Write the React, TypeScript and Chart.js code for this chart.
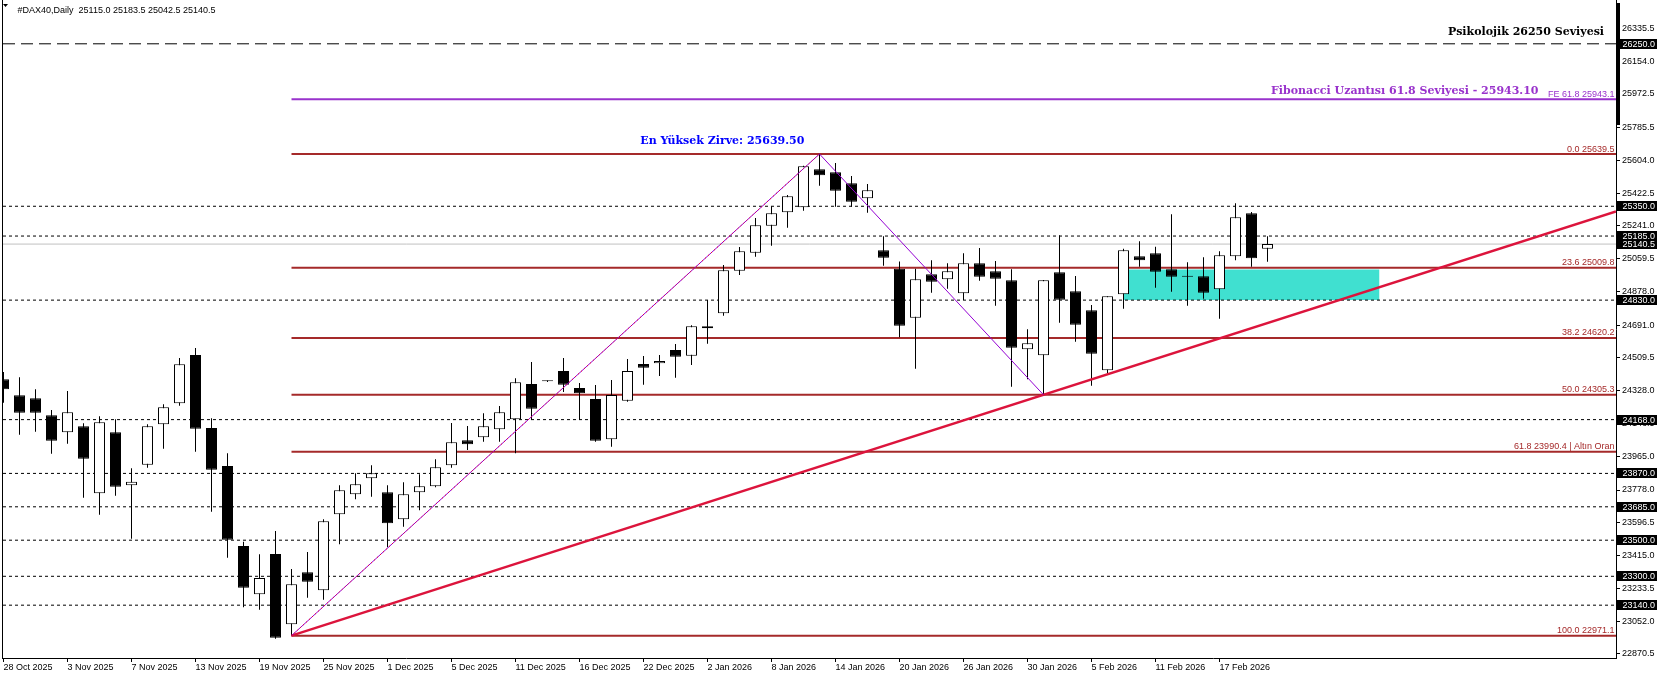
import React, { useEffect, useRef } from 'react';
import { Chart, registerables } from 'chart.js';

Chart.register(...registerables);

// ---------- DATA ----------
const tickLabels = [
  '28 Oct 2025', '3 Nov 2025', '7 Nov 2025', '13 Nov 2025', '19 Nov 2025', '25 Nov 2025',
  '1 Dec 2025', '5 Dec 2025', '11 Dec 2025', '16 Dec 2025', '22 Dec 2025', '2 Jan 2026',
  '8 Jan 2026', '14 Jan 2026', '20 Jan 2026', '26 Jan 2026', '30 Jan 2026', '5 Feb 2026',
  '11 Feb 2026', '17 Feb 2026',
];
const BARS_PER_TICK = 4;

const opens = [
  24391.3, 24302.7, 24286.1, 24191.9, 24097.7, 24131.0, 23759.8, 24097.7, 23804.1, 23918.2,
  24142.0, 24258.4, 24526.0, 24121.5, 23911.0, 23467.8, 23200.2, 23423.5, 23034.0, 23322.1,
  23222.4, 23643.4, 23754.2, 23842.9, 23765.3, 23615.7, 23765.3, 23798.6, 23914.9, 24053.4,
  24070.0, 24114.3, 24169.7, 24365.3, 24381.0, 24437.3, 24343.1, 24282.2, 24058.9, 24272.8,
  24476.1, 24480.0, 24553.7, 24522.1, 24673.9, 24757.0, 24993.0, 25092.7, 25242.3, 25316.5,
  25344.2, 25554.7, 25538.1, 25477.2, 25394.1, 25106.0, 25004.1, 24732.6, 24973.0, 24945.3,
  24867.8, 25034.0, 24989.7, 24939.8, 24557.5, 24524.3, 24984.1, 24878.9, 24773.6, 24441.2,
  24862.2, 25072.8, 25089.4, 25000.7, 24965.3, 24962.0, 24889.9, 25072.8, 25311.0, 25115.0,
];
const highs = [
  24431.8, 24402.4, 24335.9, 24221.3, 24326.5, 24147.6, 24186.4, 24169.7, 23898.3, 24142.0,
  24252.8, 24509.3, 24564.7, 24175.3, 23981.4, 23491.6, 23421.8, 23550.9, 23340.4, 23434.6,
  23615.7, 23804.1, 23870.6, 23914.9, 23804.1, 23820.7, 23865.0, 23948.1, 24149.2, 24132.6,
  24203.0, 24243.4, 24396.9, 24487.2, 24384.0, 24509.3, 24370.8, 24359.8, 24387.5, 24503.8,
  24520.4, 24526.0, 24586.9, 24690.5, 24830.7, 25024.6, 25124.3, 25284.9, 25349.8, 25412.4,
  25574.7, 25639.5, 25589.6, 25517.6, 25473.3, 25183.6, 25044.5, 25004.1, 25050.6, 25034.0,
  25089.4, 25118.7, 25046.7, 25000.7, 24668.3, 24942.0, 25189.1, 24963.6, 24803.0, 24851.2,
  25114.9, 25155.9, 25125.9, 25305.4, 25039.5, 25067.2, 25100.5, 25366.4, 25318.2, 25183.5,
];
const lows = [
  24261.7, 24084.4, 24101.0, 23979.2, 24034.6, 23735.4, 23641.2, 23746.5, 23508.3, 23901.6,
  24006.9, 24245.1, 23990.2, 23657.8, 23403.0, 23128.2, 23114.9, 22954.3, 22971.1, 23181.4,
  23170.3, 23477.2, 23726.5, 23740.9, 23460.6, 23574.7, 23665.6, 23793.0, 23901.6, 23999.7,
  24045.6, 24045.6, 23981.4, 24165.9, 24377.0, 24321.0, 24165.9, 24045.6, 24017.9, 24267.2,
  24361.4, 24409.6, 24400.2, 24470.6, 24588.6, 24743.7, 24969.2, 25070.5, 25131.5, 25231.2,
  25325.4, 25463.9, 25347.5, 25347.5, 25314.3, 25020.7, 24624.0, 24450.1, 24871.1, 24893.3,
  24830.7, 24937.6, 24799.1, 24350.3, 24391.3, 24305.3, 24704.9, 24599.6, 24355.9, 24424.6,
  24782.5, 25015.1, 24898.8, 24876.6, 24799.1, 24837.9, 24727.1, 25050.6, 25015.1, 25042.5,
];
const closes = [
  24335.9, 24206.3, 24206.3, 24051.2, 24208.5, 23951.5, 24153.1, 23796.3, 23824.0, 24131.0,
  24236.2, 24474.4, 24117.7, 23890.5, 23502.7, 23236.8, 23290.5, 22959.8, 23255.6, 23270.0,
  23604.7, 23776.4, 23809.6, 23870.6, 23593.6, 23754.2, 23798.6, 23903.8, 24042.3, 24031.2,
  24131.0, 24208.5, 24374.7, 24228.5, 24380.0, 24361.4, 24313.8, 24051.2, 24304.4, 24437.3,
  24455.6, 24492.7, 24516.5, 24685.0, 24685.0, 24995.2, 25100.5, 25244.5, 25311.0, 25405.2,
  25571.4, 25521.5, 25436.2, 25375.2, 25438.4, 25065.0, 24688.3, 24945.3, 24932.0, 24989.7,
  25034.0, 24959.7, 24948.7, 24566.4, 24590.8, 24939.8, 24832.3, 24693.8, 24533.2, 24851.2,
  25106.0, 25050.6, 24987.4, 24959.7, 24959.7, 24871.1, 25078.3, 25288.8, 25061.7, 25140.5,
];

const yTickValues = [
  26335.5, 26154.0, 25972.5, 25785.5, 25604.0, 25422.5, 25241.0, 25059.5, 24878.0, 24691.0,
  24509.5, 24328.0, 24146.5, 23965.0, 23778.0, 23596.5, 23415.0, 23233.5, 23052.0, 22870.5,
];

const supportResistance = [25350, 25185, 24830, 24168, 23870, 23685, 23500, 23300, 23140];
const psychLevel = 26250;
const lastPrice = 25140.5;

const fibRatios = [0.0, 23.6, 38.2, 50.0, 61.8, 100.0];
const fibValues = [25639.5, 25009.8, 24620.2, 24305.3, 23990.4, 22971.1];
const fibNotes = ['', '', '', '', ' | Altın Oran', ''];
const fibStartBar = 18;
const feRatio = 61.8;
const feValue = 25943.1;

const swingLowBar = 18;
const swingHighBar = 51;
const pullbackLowBar = 65;

const zoneBars = [70, 86];
const zoneRange = [24830, 25000];

const symbolTitle = '#DAX40,Daily';
const psychText = 'Psikolojik 26250 Seviyesi';
const feText = 'Fibonacci Uzantısı 61.8 Seviyesi - 25943.10';
const peakText = 'En Yüksek Zirve: 25639.50';
const peakTextBar = 39.8;

// ---------- VIEW ----------
const W = 1662;
const H = 679;
const X_MIN = -0.03125;
const X_MAX = 100.78125;
const Y_MIN = 22847.34;
const Y_MAX = 26492.66;

const FIB_COLOR = '#A52A2A';
const FE_COLOR = '#9932CC';
const F_SMALL = '9px "Liberation Sans"';
const F_SERIF = 'bold 11px "DejaVu Serif"';

const hLine = (v: number, from: number, color: string, width: number, dash: number[], order: number) => ({
  type: 'line' as const,
  data: [{ x: from, y: v }, { x: X_MAX, y: v }],
  borderColor: color,
  borderWidth: width,
  borderDash: dash,
  pointRadius: 0,
  fill: false,
  tension: 0,
  order,
  clip: 0,
});

const overlayPlugin = {
  id: 'overlay',
  afterDatasetsDraw(chart: any) {
    const { ctx, chartArea: ca, scales } = chart;
    const x = scales.x;
    const y = scales.y;
    ctx.save();
    ctx.beginPath();
    ctx.rect(ca.left, ca.top, ca.right - ca.left, ca.bottom - ca.top);
    ctx.clip();

    ctx.font = F_SMALL;
    ctx.textAlign = 'right';
    ctx.textBaseline = 'alphabetic';
    fibRatios.forEach((r, i) => {
      ctx.fillStyle = FIB_COLOR;
      ctx.fillText(
        `${r.toFixed(1)} ${fibValues[i].toFixed(1)}${fibNotes[i]}`,
        ca.right - 1.5,
        y.getPixelForValue(fibValues[i]) - 2.5,
      );
    });
    ctx.fillStyle = FE_COLOR;
    ctx.fillText(`FE ${feRatio.toFixed(1)} ${feValue.toFixed(1)}`, ca.right - 1.5, y.getPixelForValue(feValue) - 2);

    ctx.font = F_SERIF;
    ctx.fillStyle = FE_COLOR;
    ctx.fillText(feText, ca.right - 77.5, y.getPixelForValue(feValue) - 5);
    ctx.fillStyle = '#000';
    ctx.fillText(psychText, ca.right - 12, y.getPixelForValue(psychLevel) - 9);
    ctx.textAlign = 'left';
    ctx.fillStyle = '#0000FF';
    ctx.fillText(peakText, x.getPixelForValue(peakTextBar), y.getPixelForValue(highs[swingHighBar]) - 10);

    ctx.restore();
  },
  afterDraw(chart: any) {
    const { ctx, chartArea: ca, scales } = chart;
    const y = scales.y;
    ctx.save();
    // left frame
    ctx.fillStyle = '#000';
    ctx.fillRect(ca.left - 1, 0, 1, ca.bottom + 1);
    // scroll marker on price axis
    ctx.fillRect(ca.right, 3, 4, 122);

    // header
    ctx.beginPath();
    ctx.moveTo(3, 4);
    ctx.lineTo(8, 4);
    ctx.lineTo(5.5, 7);
    ctx.closePath();
    ctx.fill();
    ctx.font = F_SMALL;
    ctx.textAlign = 'left';
    ctx.textBaseline = 'alphabetic';
    const n = closes.length - 1;
    ctx.fillText(
      `${symbolTitle}  ${opens[n].toFixed(1)} ${highs[n].toFixed(1)} ${lows[n].toFixed(1)} ${closes[n].toFixed(1)}`,
      17.5,
      12.5,
    );

    // price labels for levels
    ctx.textBaseline = 'middle';
    [psychLevel, ...supportResistance, lastPrice].forEach((v) => {
      const py = Math.round(y.getPixelForValue(v));
      ctx.fillStyle = '#000';
      ctx.fillRect(ca.right + 1, py - 5, 40, 10);
      ctx.fillStyle = '#fff';
      ctx.fillText(v.toFixed(1), ca.right + 6.5, py + 0.5);
    });
    ctx.restore();
  },
};

export default function App() {
  const ref = useRef<HTMLCanvasElement | null>(null);

  useEffect(() => {
    document.body.style.margin = '0';
    const canvas = ref.current;
    if (!canvas) return;

    const bars = opens.map((_, i) => i);
    const bull = bars.map((i) => closes[i] >= opens[i]);

    const trendSlope = (lows[pullbackLowBar] - lows[swingLowBar]) / (pullbackLowBar - swingLowBar);
    const trendEnd = lows[swingLowBar] + (X_MAX - swingLowBar) * trendSlope;

    const datasets: any[] = [
      {
        type: 'line',
        data: [
          { x: swingLowBar, y: lows[swingLowBar] },
          { x: swingHighBar, y: highs[swingHighBar] },
          { x: pullbackLowBar, y: lows[pullbackLowBar] },
        ],
        borderColor: '#9400D3',
        borderWidth: 1,
        pointRadius: 0,
        fill: false,
        tension: 0,
        order: 0,
        clip: 0,
      },
      {
        type: 'line',
        data: [
          { x: swingLowBar, y: lows[swingLowBar] },
          { x: swingHighBar, y: highs[swingHighBar] },
        ],
        borderColor: '#FF0000',
        borderWidth: 1,
        borderDash: [1, 3],
        pointRadius: 0,
        fill: false,
        tension: 0,
        order: -1,
        clip: 0,
      },
      {
        type: 'line',
        data: [
          { x: swingLowBar, y: lows[swingLowBar] },
          { x: X_MAX, y: trendEnd },
        ],
        borderColor: '#DC143C',
        borderWidth: 2.5,
        pointRadius: 0,
        fill: false,
        tension: 0,
        order: 1,
        clip: 0,
      },
      {
        type: 'bar',
        data: bars.map((i) => ({ x: i, y: [Math.min(opens[i], closes[i]), Math.max(opens[i], closes[i])] })),
        backgroundColor: bars.map((i) => (bull[i] ? '#FFFFFF' : '#000000')),
        borderColor: '#000000',
        borderWidth: 1,
        borderSkipped: false,
        barThickness: 11,
        minBarLength: 1,
        inflateAmount: 0,
        grouped: false,
        order: 4,
        clip: 0,
      },
      {
        type: 'bar',
        data: bars.map((i) => ({ x: i, y: [lows[i], highs[i]] })),
        backgroundColor: '#000000',
        borderWidth: 0,
        barThickness: 1,
        inflateAmount: 0,
        grouped: false,
        order: 5,
        clip: 0,
      },
      ...fibValues.map((v) => hLine(v, fibStartBar, FIB_COLOR, 2, [], 8)),
      hLine(feValue, fibStartBar, FE_COLOR, 2, [], 8),
      hLine(lastPrice, X_MIN, '#C0C0C0', 1, [], 9),
      hLine(psychLevel, X_MIN, '#000000', 1, [12, 6], 9),
      ...supportResistance.map((v) => hLine(v, X_MIN, '#000000', 1, [3, 3], 9)),
      {
        type: 'line',
        data: [
          { x: zoneBars[0], y: zoneRange[1] },
          { x: zoneBars[1], y: zoneRange[1] },
        ],
        borderWidth: 0,
        borderColor: 'rgba(0,0,0,0)',
        backgroundColor: '#40E0D0',
        fill: { value: zoneRange[0] },
        pointRadius: 0,
        tension: 0,
        order: 20,
        clip: 0,
      },
    ];

    const axisFont = { family: '"Liberation Sans"', size: 9 };

    const chart = new Chart(canvas, {
      type: 'bar',
      data: { datasets },
      options: {
        responsive: false,
        animation: false,
        devicePixelRatio: 1,
        events: [],
        layout: { padding: { left: 3, right: 0, top: 0, bottom: 0 } },
        plugins: { legend: { display: false }, tooltip: { enabled: false } },
        scales: {
          x: {
            type: 'linear',
            position: 'bottom',
            min: X_MIN,
            max: X_MAX,
            offset: false,
            grid: { display: true, drawOnChartArea: false, drawTicks: true, tickLength: 4, color: '#000', offset: false },
            border: { display: true, color: '#000' },
            ticks: {
              autoSkip: false,
              maxRotation: 0,
              minRotation: 0,
              align: 'start',
              padding: 0,
              color: '#000',
              font: axisFont,
              callback: (v: any) => tickLabels[Math.round(Number(v) / BARS_PER_TICK)] ?? '',
            },
            afterBuildTicks: (s: any) => {
              s.ticks = tickLabels.map((_, k) => ({ value: k * BARS_PER_TICK }));
            },
            afterFit: (s: any) => {
              s.height = 21;
              s.paddingLeft = 0;
              s.paddingRight = 0;
            },
          },
          y: {
            type: 'linear',
            position: 'right',
            min: Y_MIN,
            max: Y_MAX,
            grid: { display: true, drawOnChartArea: false, drawTicks: true, tickLength: 4, color: '#000' },
            border: { display: true, color: '#000' },
            ticks: {
              autoSkip: false,
              padding: 2,
              color: '#000',
              font: axisFont,
              callback: (v: any) => Number(v).toFixed(1),
            },
            afterBuildTicks: (s: any) => {
              s.ticks = yTickValues.map((v) => ({ value: v }));
            },
            afterFit: (s: any) => {
              s.width = 46;
              s.paddingTop = 0;
              s.paddingBottom = 0;
            },
          },
        },
      } as any,
      plugins: [overlayPlugin],
    });

    return () => chart.destroy();
  }, []);

  return (
    <div style={{ width: W, height: H, background: '#fff' }}>
      <canvas ref={ref} width={W} height={H} style={{ display: 'block' }} />
    </div>
  );
}
